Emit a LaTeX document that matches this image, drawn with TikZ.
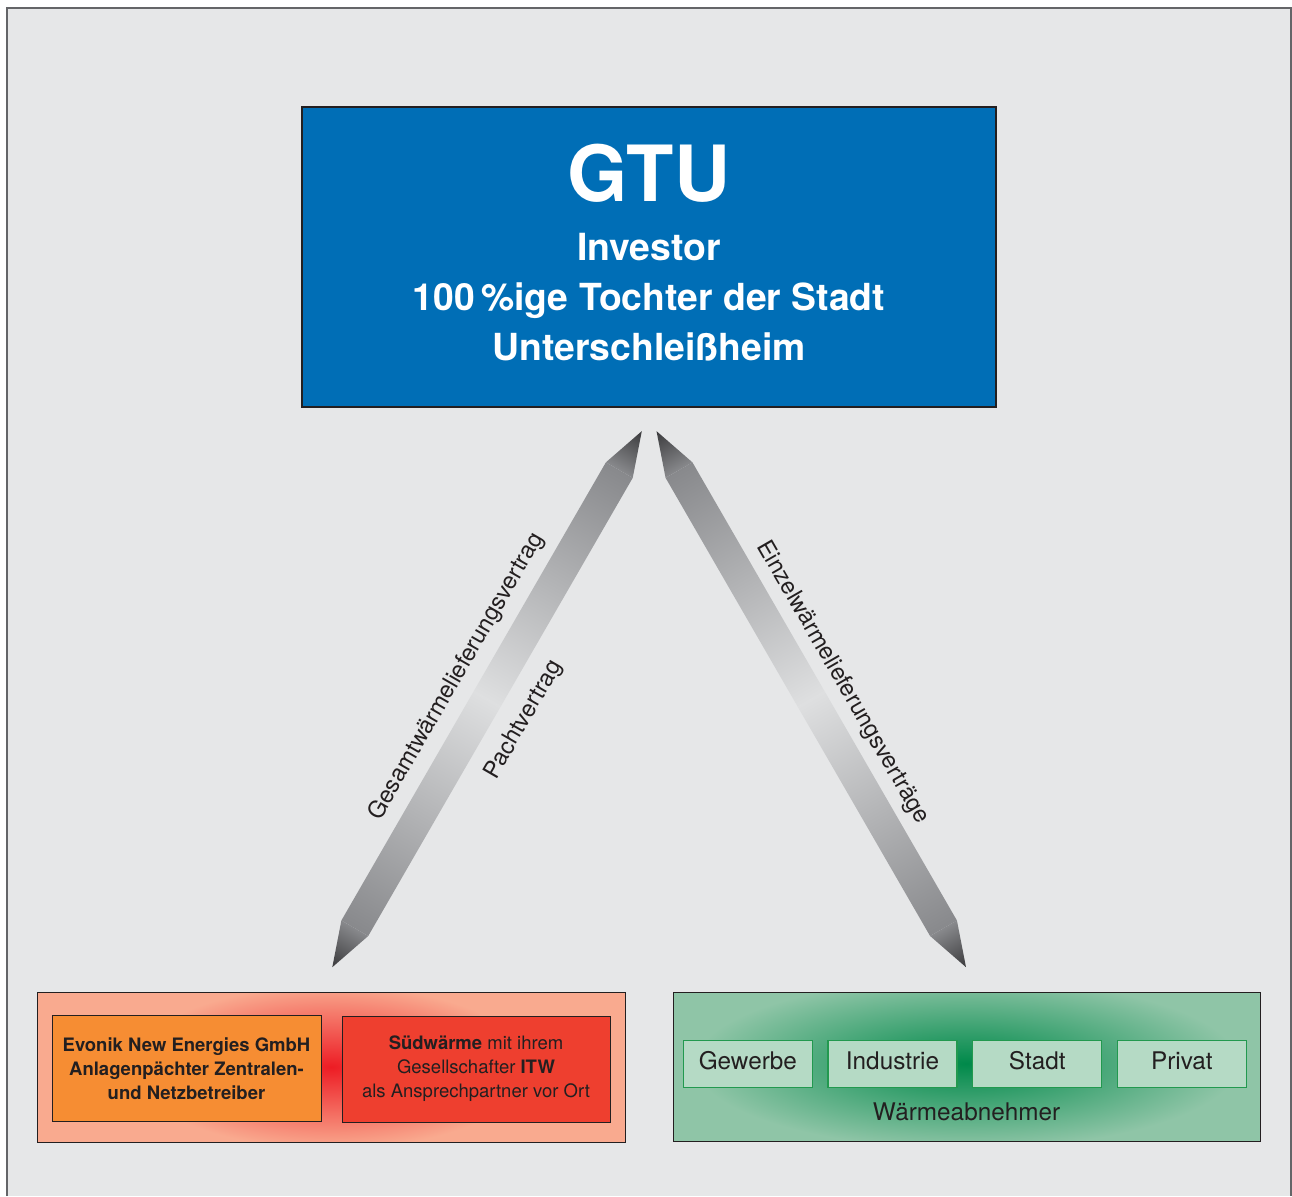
\documentclass[tikz,border=0pt]{standalone}
\usepackage{fontspec}
\setmainfont{TeX Gyre Heros}
\usetikzlibrary{positioning}

\definecolor{hgrau}{RGB}{230,231,232}
\definecolor{rahmengrau}{RGB}{100,101,104}
\definecolor{dunkel}{RGB}{35,31,32}
\definecolor{gtublau}{RGB}{0,110,182}
\definecolor{pfeilgrau}{RGB}{136,137,140}
\definecolor{pfeilhell}{RGB}{222,223,224}
\definecolor{spitze}{RGB}{58,58,60}
\definecolor{lachs}{RGB}{249,170,143}
\definecolor{orange}{RGB}{246,141,51}
\definecolor{rot}{RGB}{238,63,47}
\definecolor{glutrot}{RGB}{237,28,36}
\definecolor{hgruen}{RGB}{143,197,167}
\definecolor{dgruen}{RGB}{0,137,74}
\definecolor{zgruen}{RGB}{181,218,197}
\definecolor{rgruen}{RGB}{34,153,79}

% weiche Leuchtflecken
\pgfdeclareradialshading{glutrot}{\pgfpointorigin}{color(0bp)=(glutrot); color(5bp)=(glutrot!70!lachs);
  color(17bp)=(lachs); color(50bp)=(lachs)}
\pgfdeclareradialshading{glutgruen}{\pgfpointorigin}{color(0bp)=(dgruen); color(6bp)=(dgruen!65!hgruen);
  color(17bp)=(hgruen); color(50bp)=(hgruen)}

\tikzset{
  kasten/.style={draw=dunkel, line width=1pt, inner sep=0pt},
  gtutext/.style={white, anchor=base, inner sep=0pt},
  firma/.style={kasten, minimum height=106pt, align=center, text=dunkel,
                font=\fontsize{18.5}{24}\selectfont},
  kunde/.style={draw=rgruen, line width=1.2pt, fill=zgruen, inner sep=0pt,
                minimum width=129pt, minimum height=47pt, text=dunkel,
                text height=16pt, text depth=5pt, font=\fontsize{24.3}{24.3}\selectfont},
  pfeiltext/.style={text=dunkel, inner sep=0pt, font=\fontsize{23.5}{23.5}\selectfont}
}

\begin{document}
\begin{tikzpicture}[x=1pt,y=-1pt]
  \useasboundingbox (0,0) rectangle (1292,1196);
  \fill[white] (0,0) rectangle (1292,1196);
  \fill[hgrau] (7,8) rectangle (1291,1196);
  \draw[rahmengrau,line width=1.5pt] (7,1196) -- (7,8) -- (1291,8) -- (1291,1196);

  % investor
  \node[kasten, fill=gtublau, line width=2pt, minimum width=694pt, minimum height=300pt] (gtu) at (649,257) {};
  \node[gtutext, font=\bfseries\fontsize{77.5}{77.5}\selectfont] (gtuname) at (649,201.5) {GTU};
  \node[gtutext, font=\bfseries\fontsize{37.4}{37.4}\selectfont] (gtuzeile1) at (649,260) {Investor};
  \node[gtutext, font=\bfseries\fontsize{37.3}{37.3}\selectfont] (gtuzeile2) at (649,310.5) {100\,\%ige Tochter der Stadt};
  \node[gtutext, font=\bfseries\fontsize{37.3}{37.3}\selectfont] (gtuzeile3) at (649,360.5) {Unterschleißheim};

  % betreiber
  \node[kasten, fill=lachs, minimum width=588pt, minimum height=150pt,
        path picture={\shade[shading=glutrot]
          (path picture bounding box.center) ellipse [x radius=165pt, y radius=120pt];}] (betrieb) at (331,1067) {};
  \node[firma, fill=orange, minimum width=269pt, font=\bfseries\fontsize{18.5}{24}\selectfont] (evonik) at (186.5,1068.7)
    {Evonik New Energies GmbH\\Anlagenpächter Zentralen-\\und Netzbetreiber};
  \node[firma, fill=rot, minimum width=268pt] (suedwaerme) at (476,1069)
    {{\bfseries Südwärme} mit ihrem\\Gesellschafter {\bfseries ITW}\\als Ansprechpartner vor Ort};

  % abnehmer
  \node[kasten, fill=hgruen, minimum width=587pt, minimum height=149pt,
        path picture={\shade[shading=glutgruen]
          ([yshift=3pt]path picture bounding box.center) ellipse [x radius=400pt, y radius=125pt];}] (abnehmer) at (966.5,1066.5) {};
  \node[kunde] (gewerbe) at (747.8,1063.7) {Gewerbe};
  \node[kunde, right=14.5pt of gewerbe] (industrie) {Industrie};
  \node[kunde, right=14.5pt of industrie] (stadt) {Stadt};
  \node[kunde, right=14.5pt of stadt] (privat) {Privat};
  \node[text=dunkel, anchor=base, inner sep=0pt, font=\fontsize{24.3}{24.3}\selectfont] (abnehmertext) at (966.5,1120) {Wärmeabnehmer};

  % pfeile
  \coordinate (lbot) at ([xshift=1.3pt,yshift=24.3pt]betrieb.north);
  \coordinate (rbot) at ([xshift=-0.5pt,yshift=24.3pt]abnehmer.north);
  \begin{scope}[transform canvas={shift={(lbot)}, rotate=60}]
    \shade[left color=spitze, right color=pfeilgrau] (0,0) -- (45,-15.5) -- (45,15.5) -- cycle;
    \shade[left color=pfeilgrau, right color=pfeilhell] (45,-15.5) rectangle (309.5,15.5);
    \shade[left color=pfeilhell, right color=pfeilgrau] (309.5,-15.5) rectangle (574,15.5);
    \shade[left color=pfeilgrau, right color=spitze] (574,-15.5) -- (619,0) -- (574,15.5) -- cycle;
  \end{scope}
  \begin{scope}[transform canvas={shift={(rbot)}, rotate=120}]
    \shade[left color=spitze, right color=pfeilgrau] (0,0) -- (45,-15.5) -- (45,15.5) -- cycle;
    \shade[left color=pfeilgrau, right color=pfeilhell] (45,-15.5) rectangle (309.5,15.5);
    \shade[left color=pfeilhell, right color=pfeilgrau] (309.5,-15.5) rectangle (574,15.5);
    \shade[left color=pfeilgrau, right color=spitze] (574,-15.5) -- (619,0) -- (574,15.5) -- cycle;
  \end{scope}
  \node[pfeiltext, rotate=60] (gesamt) at (456.6,676.4) {Gesamtwärmelieferungsvertrag};
  \node[pfeiltext, rotate=60] (pacht) at (524,720) {Pachtvertrag};
  \node[pfeiltext, rotate=-60] (einzel) at (842.5,682.5) {Einzelwärmelieferungsverträge};
\end{tikzpicture}
\end{document}
